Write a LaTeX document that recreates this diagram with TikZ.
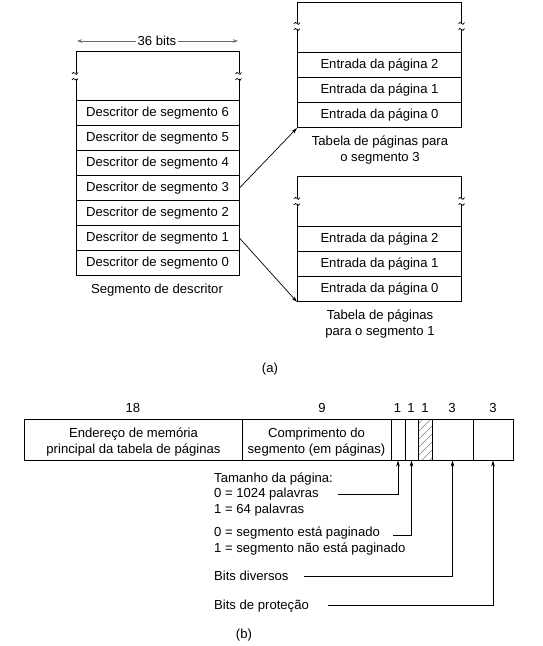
\documentclass[tikz,border=0pt]{standalone}
\usepackage{fontspec}
\setmainfont{Liberation Sans}
\usetikzlibrary{arrows.meta}
\newcommand{\fs}{\fontsize{13.1}{15.6}\selectfont}
\begin{document}
\begin{tikzpicture}[x=1pt,y=-1pt,
  every node/.style={font=\fs, inner sep=0pt},
  cell/.style={draw, line width=0.9pt, minimum height=25pt, text height=9.3pt, text depth=1.5pt},
  txt/.style={anchor=base},
  ltxt/.style={anchor=base west},
  arr/.style={line width=0.7pt, -{Stealth[length=6pt,width=3.6pt]}},
  brk/.pic={
    \fill[white] (-2,-3) rectangle (2,3);
    \draw[line width=0.7pt] (-3,-2) .. controls (-1,-7) and (1,2) .. (3,-3.5);
    \draw[line width=0.7pt] (-3,4) .. controls (-1,-1) and (1,8) .. (3,2.5);
  }]
\useasboundingbox (0,0) rectangle (542,646);

% ---------- (a) left table ----------
\draw[gray!85!black, line width=0.8pt, {Stealth[length=5pt,width=3.5pt]}-{Stealth[length=5pt,width=3.5pt]}] (77,41) coordinate (wl) -- (238,41) coordinate (wr);
\node[fill=white, inner xsep=1.5pt, txt] (w36) at (157,45) {36 bits};

\node[cell, minimum width=163pt, minimum height=49pt] (ltop) at (157.5,76) {};
\node[cell, minimum width=163pt] (d6) at (157.5,113) {Descritor de segmento 6};
\node[cell, minimum width=163pt] (d5) at (157.5,138) {Descritor de segmento 5};
\node[cell, minimum width=163pt] (d4) at (157.5,163) {Descritor de segmento 4};
\node[cell, minimum width=163pt] (d3) at (157.5,188) {Descritor de segmento 3};
\node[cell, minimum width=163pt] (d2) at (157.5,213) {Descritor de segmento 2};
\node[cell, minimum width=163pt] (d1) at (157.5,238) {Descritor de segmento 1};
\node[cell, minimum width=163pt] (d0) at (157.5,263) {Descritor de segmento 0};
\node[txt] (lsd) at (157,293.7) {Segmento de descritor};
\pic at (75,76) {brk};
\pic at (238.5,76) {brk};

% ---------- (a) right top table ----------
\node[cell, minimum width=164pt, minimum height=50pt] (ttop) at (379.5,27.5) {};
\node[cell, minimum width=164pt] (e32) at (379.5,65) {Entrada da página 2};
\node[cell, minimum width=164pt] (e31) at (379.5,90) {Entrada da página 1};
\node[cell, minimum width=164pt] (e30) at (379.5,115) {Entrada da página 0};
\node[txt] (lt3a) at (380,145.7) {Tabela de páginas para};
\node[txt] (lt3b) at (380,161.7) {o segmento 3};
\pic at (297,26) {brk};
\pic at (461.5,26) {brk};

% ---------- (a) right bottom table ----------
\node[cell, minimum width=164pt, minimum height=50pt] (btop) at (379.5,201.5) {};
\node[cell, minimum width=164pt] (e12) at (379.5,239) {Entrada da página 2};
\node[cell, minimum width=164pt] (e11) at (379.5,264) {Entrada da página 1};
\node[cell, minimum width=164pt] (e10) at (379.5,289) {Entrada da página 0};
\node[txt] (lt1a) at (380,319.7) {Tabela de páginas};
\node[txt] (lt1b) at (380,335.7) {para o segmento 1};
\pic at (297,201) {brk};
\pic at (461.5,201) {brk};

\draw[arr] (d3.east) -- (e30.south west);
\draw[arr] (d1.east) -- (e10.south west);

\node[txt] (capa) at (270,372.5) {(a)};

% ---------- (b) ----------
\node[txt] (n18) at (133,412.7) {18};
\node[txt] (n9) at (322,412.7) {9};
\node[txt] (n1a) at (397.5,412.7) {1};
\node[txt] (n1b) at (411,412.7) {1};
\node[txt] (n1c) at (425,412.7) {1};
\node[txt] (n3a) at (452,412.7) {3};
\node[txt] (n3b) at (493,412.7) {3};

\begin{scope}
\clip (418,419.5) rectangle (432,459.5);
\foreach \yy in {424,432,...,488} \draw[gray, line width=0.5pt] (418,\yy) -- (432,\yy-14);
\end{scope}
\node[cell, minimum width=218pt, minimum height=41pt] (fa) at (133,439.5) {};
\node[cell, minimum width=149pt, minimum height=41pt] (fb) at (316.5,439.5) {};
\node[cell, minimum width=14pt, minimum height=41pt] (fc) at (398,439.5) {};
\node[cell, minimum width=13pt, minimum height=41pt] (fd) at (411.5,439.5) {};
\node[cell, minimum width=14pt, minimum height=41pt] (fe) at (425,439.5) {};
\node[cell, minimum width=41pt, minimum height=41pt] (ff) at (452.5,439.5) {};
\node[cell, minimum width=40pt, minimum height=41pt] (fg) at (493,439.5) {};

\node[txt] (fat1) at (133.5,437) {Endereço de memória};
\node[txt] (fat2) at (133.5,453.3) {principal da tabela de páginas};
\node[txt] (fbt1) at (316.5,437) {Comprimento do};
\node[txt] (fbt2) at (316.5,453.3) {segmento (em páginas)};

\node[ltxt] (ta) at (214,482.7) {Tamanho da página:};
\node[ltxt] (tb) at (214,497.7) {0 = 1024 palavras};
\node[ltxt] (tc) at (214,513.7) {1 = 64 palavras};
\node[ltxt] (td) at (214,536.7) {0 = segmento está paginado};
\node[ltxt] (te) at (214,552.7) {1 = segmento não está paginado};
\node[ltxt] (tf) at (214,580.7) {Bits diversos};
\node[ltxt] (tg) at (214,609.7) {Bits de proteção};

\coordinate (s1) at (338,494);
\coordinate (s2) at (393,535);
\coordinate (s3) at (304,576);
\coordinate (s4) at (328,605);
\draw[arr] (s1) -| (fc.south);
\draw[arr] (s2) -| (fd.south);
\draw[arr] (s3) -| (ff.south);
\draw[arr] (s4) -| (fg.south);

\node[txt] (capb) at (244,638.5) {(b)};
\end{tikzpicture}
\end{document}
